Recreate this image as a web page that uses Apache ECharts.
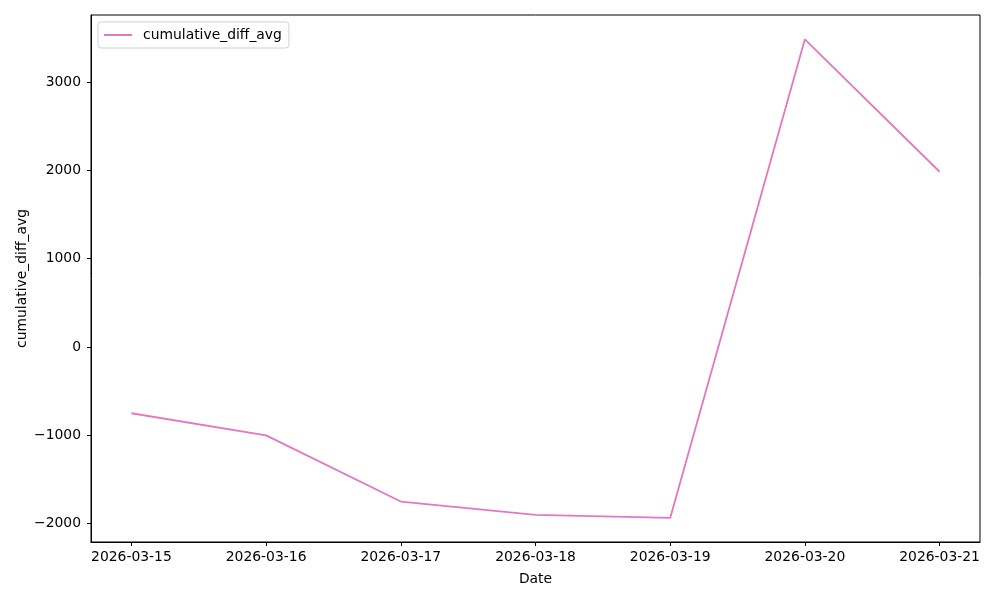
<!DOCTYPE html>
<html><head><meta charset="utf-8">
<script src="https://cdn.jsdelivr.net/npm/echarts@6/dist/echarts.min.js"></script>
<style>html,body{margin:0;padding:0;background:#fff}#c{width:1000px;height:600px}</style>
</head><body><div id="c"></div>
<script>
const dates = ['2026-03-15','2026-03-16','2026-03-17','2026-03-18','2026-03-19','2026-03-20','2026-03-21'];
const cumulativeDiffAvg = [-750, -1000, -1750, -1900, -1935, 3485, 1985];
const yTicks = [-2000, -1000, 0, 1000, 2000, 3000];
const seriesName = 'cumulative_diff_avg';

const font = 'DejaVu Sans';
const fs = 13.9;
const chart = echarts.init(document.getElementById('c'), null, {renderer: 'canvas'});
const fmtNum = v => (v < 0 ? '\u2212' + Math.abs(v) : String(v));
chart.setOption({
  animation: false,
  textStyle: {fontFamily: font},
  grid: {left: 91, top: 15, right: 20, bottom: 58, show: true, borderColor: '#000', borderWidth: 1, backgroundColor: 'transparent'},
  legend: {
    left: 98, top: 22, padding: [6, 7, 6, 6],
    backgroundColor: '#fff', borderColor: '#d0d0d0', borderWidth: 1, borderRadius: 3,
    itemWidth: 28, itemHeight: 2, itemGap: 8,
    textStyle: {fontFamily: font, fontSize: fs, color: '#000', padding: [0, 0, 0, 6]},
    data: [{name: seriesName, icon: 'path://M0,0L28,0L28,2L0,2Z'}]
  },
  xAxis: {
    type: 'value', min: -0.3, max: 6.3,
    name: 'Date', nameLocation: 'middle', nameGap: 30, nameMoveOverlap: false,
    nameTextStyle: {fontFamily: font, fontSize: fs, color: '#000'},
    splitLine: {show: false},
    axisLine: {show: true, onZero: false, lineStyle: {color: '#000', width: 1}},
    axisTick: {show: true, inside: false, length: 4, lineStyle: {color: '#000'}, customValues: dates.map((d, i) => i)},
    axisLabel: {color: '#000', fontFamily: font, fontSize: fs, margin: 8, customValues: dates.map((d, i) => i),
      formatter: v => dates[Math.round(v)] || ''}
  },
  yAxis: {
    type: 'value', min: -2208, max: 3760,
    name: 'cumulative_diff_avg', nameLocation: 'middle', nameGap: 62, nameRotate: 90, nameMoveOverlap: false,
    nameTextStyle: {fontFamily: font, fontSize: fs, color: '#000'},
    splitLine: {show: false},
    axisLine: {show: true, onZero: false, lineStyle: {color: '#000', width: 1}},
    axisTick: {show: true, inside: false, length: 4, lineStyle: {color: '#000'}, customValues: yTicks},
    axisLabel: {color: '#000', fontFamily: font, fontSize: fs, margin: 10, customValues: yTicks, formatter: fmtNum}
  },
  series: [{
    name: seriesName, type: 'line',
    data: cumulativeDiffAvg.map((v, i) => [i, v]),
    showSymbol: false, symbol: 'none',
    lineStyle: {color: '#e377c2', width: 1.8},
    itemStyle: {color: '#e377c2'}
  }]
});
</script></body></html>
